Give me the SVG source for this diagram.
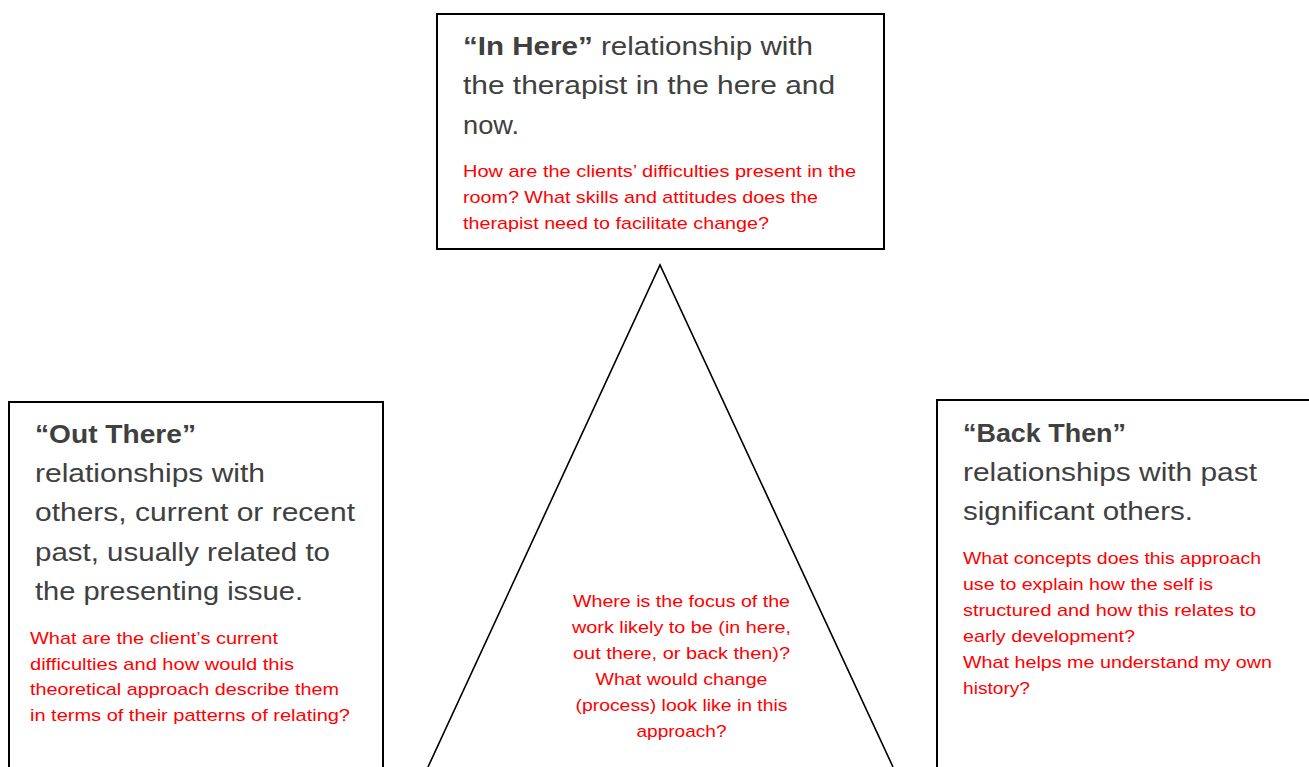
<svg xmlns="http://www.w3.org/2000/svg" width="1309" height="767" viewBox="0 0 1309 767">
<style>
.box{fill:#fff;stroke:#000;stroke-width:2}
.main{font-family:"Liberation Sans",Arial,sans-serif;font-size:26px;fill:#404040}
.b{font-weight:bold}
.q{font-family:"Liberation Sans",Arial,sans-serif;font-size:17px;fill:#ff0000}
.tri{fill:none;stroke:#000;stroke-width:1.6}
</style>
<rect width="1309" height="767" fill="#fff"/>
<g id="connectors">
<polyline class="tri" points="428,767 660,265 893,767"/>
</g>
<g id="in-here">
<rect class="box" x="437" y="14" width="447" height="235"/>
<text class="main" x="463" y="55" textLength="350" lengthAdjust="spacingAndGlyphs"><tspan class="b">“In Here”</tspan> relationship with</text>
<text class="main" x="463" y="94" textLength="372" lengthAdjust="spacingAndGlyphs">the therapist in the here and</text>
<text class="main" x="463" y="134" textLength="56" lengthAdjust="spacingAndGlyphs">now.</text>
<text class="q" x="463" y="177" textLength="393" lengthAdjust="spacingAndGlyphs">How are the clients’ difficulties present in the</text>
<text class="q" x="463" y="203" textLength="355" lengthAdjust="spacingAndGlyphs">room? What skills and attitudes does the</text>
<text class="q" x="463" y="229" textLength="306" lengthAdjust="spacingAndGlyphs">therapist need to facilitate change?</text>
</g>
<g id="out-there">
<rect class="box" x="9" y="402" width="374" height="370"/>
<text class="main b" x="35" y="443" textLength="161" lengthAdjust="spacingAndGlyphs">“Out There”</text>
<text class="main" x="35" y="482" textLength="230" lengthAdjust="spacingAndGlyphs">relationships with</text>
<text class="main" x="35" y="521" textLength="320" lengthAdjust="spacingAndGlyphs">others, current or recent</text>
<text class="main" x="35" y="561" textLength="295" lengthAdjust="spacingAndGlyphs">past, usually related to</text>
<text class="main" x="35" y="600" textLength="268" lengthAdjust="spacingAndGlyphs">the presenting issue.</text>
<text class="q" x="30" y="644" textLength="248" lengthAdjust="spacingAndGlyphs">What are the client’s current</text>
<text class="q" x="30" y="670" textLength="264" lengthAdjust="spacingAndGlyphs">difficulties and how would this</text>
<text class="q" x="30" y="695" textLength="309" lengthAdjust="spacingAndGlyphs">theoretical approach describe them</text>
<text class="q" x="30" y="721" textLength="320" lengthAdjust="spacingAndGlyphs">in terms of their patterns of relating?</text>
</g>
<g id="back-then">
<rect class="box" x="937" y="400" width="380" height="372"/>
<text class="main b" x="963" y="442" textLength="163" lengthAdjust="spacingAndGlyphs">“Back Then”</text>
<text class="main" x="963" y="481" textLength="294" lengthAdjust="spacingAndGlyphs">relationships with past</text>
<text class="main" x="963" y="520" textLength="230" lengthAdjust="spacingAndGlyphs">significant others.</text>
<text class="q" x="963" y="564" textLength="298" lengthAdjust="spacingAndGlyphs">What concepts does this approach</text>
<text class="q" x="963" y="590" textLength="250" lengthAdjust="spacingAndGlyphs">use to explain how the self is</text>
<text class="q" x="963" y="616" textLength="293" lengthAdjust="spacingAndGlyphs">structured and how this relates to</text>
<text class="q" x="963" y="642" textLength="172" lengthAdjust="spacingAndGlyphs">early development?</text>
<text class="q" x="963" y="668" textLength="309" lengthAdjust="spacingAndGlyphs">What helps me understand my own</text>
<text class="q" x="963" y="694" textLength="67" lengthAdjust="spacingAndGlyphs">history?</text>
</g>
<g id="focus" text-anchor="middle">
<text class="q" x="681.5" y="607" textLength="217" lengthAdjust="spacingAndGlyphs">Where is the focus of the</text>
<text class="q" x="681.5" y="633" textLength="219" lengthAdjust="spacingAndGlyphs">work likely to be (in here,</text>
<text class="q" x="681.5" y="659" textLength="217" lengthAdjust="spacingAndGlyphs">out there, or back then)?</text>
<text class="q" x="681.5" y="685" textLength="172" lengthAdjust="spacingAndGlyphs">What would change</text>
<text class="q" x="681.5" y="711" textLength="212" lengthAdjust="spacingAndGlyphs">(process) look like in this</text>
<text class="q" x="681.5" y="737" textLength="90" lengthAdjust="spacingAndGlyphs">approach?</text>
</g>
</svg>
